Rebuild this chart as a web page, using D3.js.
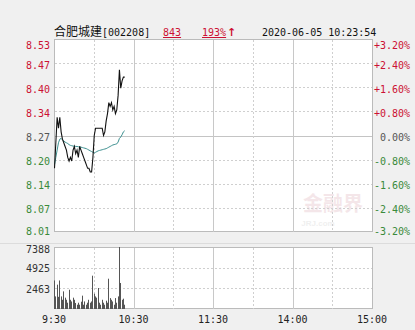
<!DOCTYPE html>
<html>
<head>
<meta charset="utf-8">
<script src="https://cdn.jsdelivr.net/npm/d3@7"></script>
<style>
  body { margin: 0; background: #f0f0f0; }
  svg { display: block; }
</style>
</head>
<body>
<div class="chart"></div>
<script>
var w = 415;
var h = 330;

// Stock info
var stockName = "合肥城建";
var stockCode = "[002208]";
var lastPrice = "843";
var lastPct = "193%";
var timeStamp = "2020-06-05 10:23:54";
var prevClose = 8.27;

// Minute prices from 9:30 to 10:23
var prices = [8.18, 8.25, 8.32, 8.29, 8.32, 8.28, 8.26, 8.25, 8.24, 8.23,
              8.21, 8.20, 8.21, 8.20, 8.23, 8.24, 8.22, 8.23, 8.21, 8.24,
              8.23, 8.22, 8.21, 8.20, 8.19, 8.18, 8.18, 8.17, 8.17, 8.21,
              8.27, 8.29, 8.29, 8.29, 8.29, 8.29, 8.29, 8.27, 8.28, 8.31,
              8.33, 8.36, 8.35, 8.36, 8.34, 8.35, 8.33, 8.34, 8.38, 8.45,
              8.40, 8.42, 8.43, 8.43];

// Average price line
var avgPrices = [8.19, 8.21, 8.23, 8.25, 8.26, 8.262, 8.258, 8.255, 8.252, 8.25,
                 8.248, 8.245, 8.243, 8.242, 8.241, 8.241, 8.24, 8.24, 8.239, 8.239,
                 8.238, 8.237, 8.236, 8.235, 8.234, 8.232, 8.23, 8.228, 8.226, 8.224,
                 8.222, 8.224, 8.226, 8.228, 8.229, 8.23, 8.231, 8.232, 8.233, 8.234,
                 8.236, 8.238, 8.24, 8.242, 8.244, 8.245, 8.246, 8.247, 8.252, 8.262,
                 8.266, 8.272, 8.28, 8.283];

// Minute volumes
var volumes = [3400, 1500, 2900, 1450, 3400, 1500, 1100, 2100, 1350, 1100,
               750, 2300, 1100, 900, 1350, 1100, 720, 510, 750, 510,
               870, 1590, 510, 900, 510, 750, 1100, 750, 900, 3970,
               1820, 1500, 1350, 2500, 750, 510, 1100, 750, 510, 990,
               750, 3610, 1300, 1100, 900, 510, 1300, 750, 1500, 7388,
               3100, 1100, 1230, 510];

var priceTicks = ["8.53", "8.47", "8.40", "8.34", "8.27", "8.20", "8.14", "8.07", "8.01"];
var pctTicks = ["+3.20%", "+2.40%", "+1.60%", "+0.80%", "0.00%", "-0.80%", "-1.60%", "-2.40%", "-3.20%"];
var volTicks = ["7388", "4925", "2463"];
var timeLabels = ["9:30", "10:30", "11:30", "14:00", "15:00"];
var timeMinutes = [0, 60, 120, 180, 240];

var red = "#cc1133";
var green = "#3a8a3a";
var grey = "#555";
var mono = "'DejaVu Sans Mono', monospace";

var svg = d3.select(".chart")
    .append("svg")
    .attr("width", w)
    .attr("height", h);

// Scales
var x = d3.scaleLinear().domain([0, 240]).range([54, 372]);
var y = d3.scaleLinear()
    .domain([prevClose * (1 - 0.032), prevClose * (1 + 0.032)])
    .range([232, 39]);
var yVol = d3.scaleLinear().domain([0, 7388]).range([309, 247]);
var row = d3.scaleLinear().domain([0, 8]).range([39, 232]);

// separator line
svg.append("line")
    .attr("x1", 0).attr("x2", w)
    .attr("y1", 243.5).attr("y2", 243.5)
    .attr("stroke", "#dcdcdc");

// panes
svg.append("rect")
    .attr("x", 54.5).attr("y", 39.5)
    .attr("width", 318).attr("height", 192)
    .attr("fill", "#fff").attr("stroke", "#bbb");
svg.append("rect")
    .attr("x", 54.5).attr("y", 247.5)
    .attr("width", 318).attr("height", 61)
    .attr("fill", "#fff").attr("stroke", "#bbb");

// watermark
var wm = svg.append("g").attr("opacity", 0.13);
wm.append("text")
    .attr("x", 333).attr("y", 211)
    .attr("text-anchor", "middle")
    .attr("font-family", "'Noto Sans CJK SC', sans-serif")
    .attr("font-weight", "bold")
    .attr("font-size", 20)
    .attr("fill", "#b0485a")
    .text("金融界");
wm.append("text")
    .attr("x", 318).attr("y", 226)
    .attr("text-anchor", "middle")
    .attr("font-family", "Arial, sans-serif")
    .attr("font-weight", "bold")
    .attr("font-size", 8)
    .attr("fill", "#888")
    .text("JRJ.com");

// horizontal grid (price)
d3.range(1, 8).forEach(function (i) {
    var yy = Math.round(row(i)) + 0.5;
    svg.append("line")
        .attr("x1", 55).attr("x2", 372)
        .attr("y1", yy).attr("y2", yy)
        .attr("stroke", i === 4 ? "#c4c4c4" : "#cfcfcf")
        .attr("stroke-dasharray", i === 4 ? null : "2,2");
});

// horizontal grid (volume)
[4925, 2463].forEach(function (v) {
    var yy = Math.round(yVol(v)) + 0.5;
    svg.append("line")
        .attr("x1", 55).attr("x2", 372)
        .attr("y1", yy).attr("y2", yy)
        .attr("stroke", "#cfcfcf")
        .attr("stroke-dasharray", "2,2");
});

// vertical grid
d3.range(30, 240, 30).forEach(function (m) {
    var xx = Math.round(x(m)) + 0.5;
    var solid = (m % 60 === 0);
    [[40, 232], [248, 309]].forEach(function (r) {
        svg.append("line")
            .attr("x1", xx).attr("x2", xx)
            .attr("y1", r[0]).attr("y2", r[1])
            .attr("stroke", solid ? "#c8c8c8" : "#cfcfcf")
            .attr("stroke-dasharray", solid ? null : "2,2");
    });
});

// volume bars
svg.selectAll(".vol")
    .data(volumes)
    .enter()
    .append("rect")
    .attr("class", "vol")
    .attr("x", (d, i) => Math.round(x(i)))
    .attr("y", d => yVol(d))
    .attr("width", 1)
    .attr("height", d => 309 - yVol(d))
    .attr("fill", "#555");

// average line
var line = d3.line()
    .x((d, i) => x(i) + 0.5)
    .y(d => y(d));

svg.append("path")
    .datum(avgPrices)
    .attr("d", line)
    .attr("fill", "none")
    .attr("stroke", "#3d9090")
    .attr("stroke-width", 1);

// price line
svg.append("path")
    .datum(prices)
    .attr("d", line)
    .attr("fill", "none")
    .attr("stroke", "#111")
    .attr("stroke-width", 1.1);

// left price labels
function labelY(i) {
    if (i === 0) return 45;
    if (i === 8) return 231;
    return row(i) + 2;
}
function labelColor(i) {
    return i < 4 ? red : (i === 4 ? grey : green);
}
svg.selectAll(".pl")
    .data(priceTicks)
    .enter()
    .append("text")
    .attr("x", 50)
    .attr("y", (d, i) => labelY(i))
    .attr("dy", "0.35em")
    .attr("text-anchor", "end")
    .attr("font-family", mono)
    .attr("font-size", 10)
    .attr("fill", (d, i) => labelColor(i))
    .text(d => d);

// right percent labels
svg.selectAll(".pc")
    .data(pctTicks)
    .enter()
    .append("text")
    .attr("x", 410)
    .attr("y", (d, i) => labelY(i))
    .attr("dy", "0.35em")
    .attr("text-anchor", "end")
    .attr("font-family", mono)
    .attr("font-size", 10)
    .attr("fill", (d, i) => labelColor(i))
    .text(d => d);

// volume labels
svg.selectAll(".vl")
    .data(volTicks)
    .enter()
    .append("text")
    .attr("x", 50)
    .attr("y", (d, i) => i === 0 ? 249 : yVol(+d) + 1)
    .attr("dy", "0.35em")
    .attr("text-anchor", "end")
    .attr("font-family", mono)
    .attr("font-size", 10)
    .attr("fill", "#333")
    .text(d => d);

// time labels
svg.selectAll(".tl")
    .data(timeLabels)
    .enter()
    .append("text")
    .attr("x", (d, i) => x(timeMinutes[i]))
    .attr("y", 319)
    .attr("dy", "0.35em")
    .attr("text-anchor", "middle")
    .attr("font-family", mono)
    .attr("font-size", 10)
    .attr("fill", "#222")
    .text(d => d);

// header
var head = svg.append("text")
    .attr("x", 54)
    .attr("y", 36)
    .attr("font-size", 12)
    .attr("fill", "#111");
head.append("tspan")
    .attr("font-family", "'Noto Sans CJK SC', sans-serif")
    .text(stockName);
head.append("tspan")
    .attr("font-family", mono)
    .attr("font-size", 10)
    .text(stockCode);

svg.append("text")
    .attr("x", 163).attr("y", 36)
    .attr("font-family", mono)
    .attr("font-size", 10)
    .attr("fill", red)
    .attr("text-decoration", "underline")
    .text(lastPrice);

svg.append("text")
    .attr("x", 202).attr("y", 36)
    .attr("font-family", mono)
    .attr("font-size", 10)
    .attr("fill", red)
    .attr("text-decoration", "underline")
    .text(lastPct);

svg.append("text")
    .attr("x", 227).attr("y", 36)
    .attr("font-family", "'DejaVu Sans', sans-serif")
    .attr("font-weight", "bold")
    .attr("font-size", 11)
    .attr("fill", red)
    .text("↑");

svg.append("text")
    .attr("x", 262).attr("y", 36)
    .attr("font-family", mono)
    .attr("font-size", 10)
    .attr("fill", "#111")
    .text(timeStamp);
</script>
</body>
</html>
